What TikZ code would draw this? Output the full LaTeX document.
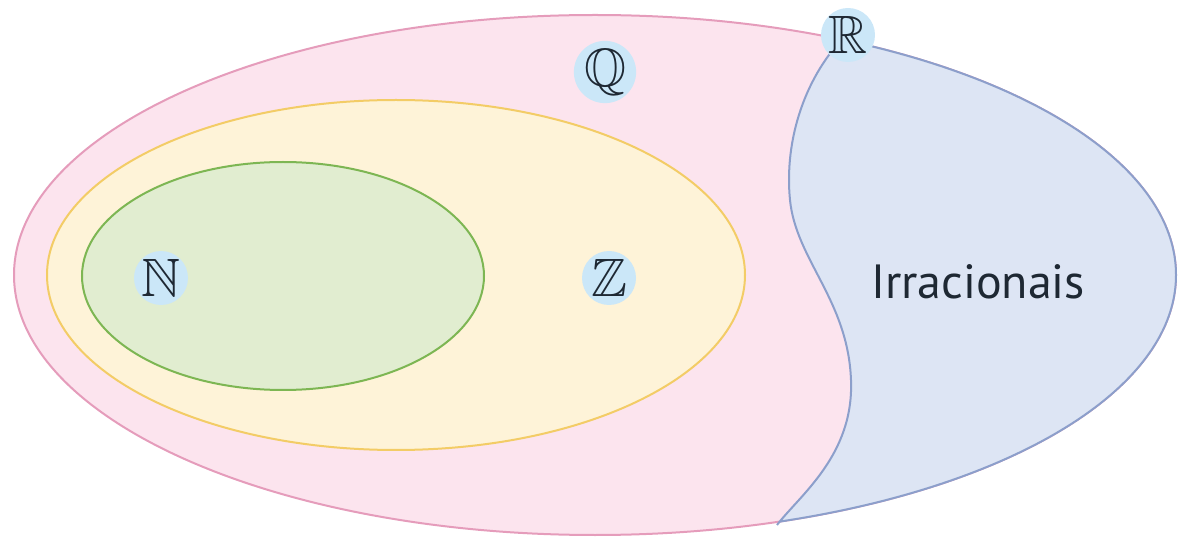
\documentclass[tikz,border=0pt]{standalone}
\usepackage{amssymb}
\usepackage{fontspec}
\usepackage{tikz}
\usetikzlibrary{positioning}
\newfontfamily\irfont{PT Sans}
\definecolor{qfill}{HTML}{FCE4EE}
\definecolor{qline}{HTML}{E59CBB}
\definecolor{zfill}{HTML}{FEF3D8}
\definecolor{zline}{HTML}{F3CC66}
\definecolor{nfill}{HTML}{E1EDD0}
\definecolor{nline}{HTML}{7DB653}
\definecolor{ifill}{HTML}{DDE5F4}
\definecolor{iline}{HTML}{8C9FCB}
\definecolor{tagfill}{HTML}{CBE7F8}
\definecolor{ink}{HTML}{1E2833}
\newcommand{\irrborder}{(848,33) .. controls (805,75) and (784,140) .. (790,200)
  .. controls (796,260) and (848,300) .. (851,380)
  .. controls (854,455) and (800,495) .. (777,525)}

\begin{document}
\begin{tikzpicture}[
  x=1pt, y=-1pt,
  every node/.style={text=ink},
  setline/.style={line width=2pt},
  tag/.style={circle,fill=tagfill,minimum size=54pt,inner sep=0pt,font=\fontsize{54}{54}\selectfont}
]
\useasboundingbox (0,0) rectangle (1179,537);
% Q (and R)
\fill[qfill] (595,275) ellipse [x radius=581pt, y radius=260pt];
\draw[setline,qline] (595,275) ellipse [x radius=581pt, y radius=260pt];
% irrationals
\begin{scope}
  \clip \irrborder -- (777,600) -- (1250,600) -- (1250,-20) -- (848,-20) -- cycle;
  \fill[ifill] (595,275) ellipse [x radius=581pt, y radius=260pt];
  \draw[setline,iline] (595,275) ellipse [x radius=581pt, y radius=260pt];
\end{scope}
\draw[setline,iline] \irrborder;
% Z
\draw[setline,zline,fill=zfill] (396,275) ellipse [x radius=349pt, y radius=175pt];
% N
\draw[setline,nline,fill=nfill] (283,276) ellipse [x radius=201pt, y radius=114pt];

\node[tag] (q) at (605,72) {$\mathbb{Q}$};
\node[tag] (r) at (848,35) {$\mathbb{R}$};
\node[tag] (z) at (609,278) {$\mathbb{Z}$};
\node[tag] (n) at (161,278) {$\mathbb{N}$};
\node[font=\irfont\fontsize{48}{48}\selectfont] (irr) at (978,282) {Irracionais};
\end{tikzpicture}
\end{document}
